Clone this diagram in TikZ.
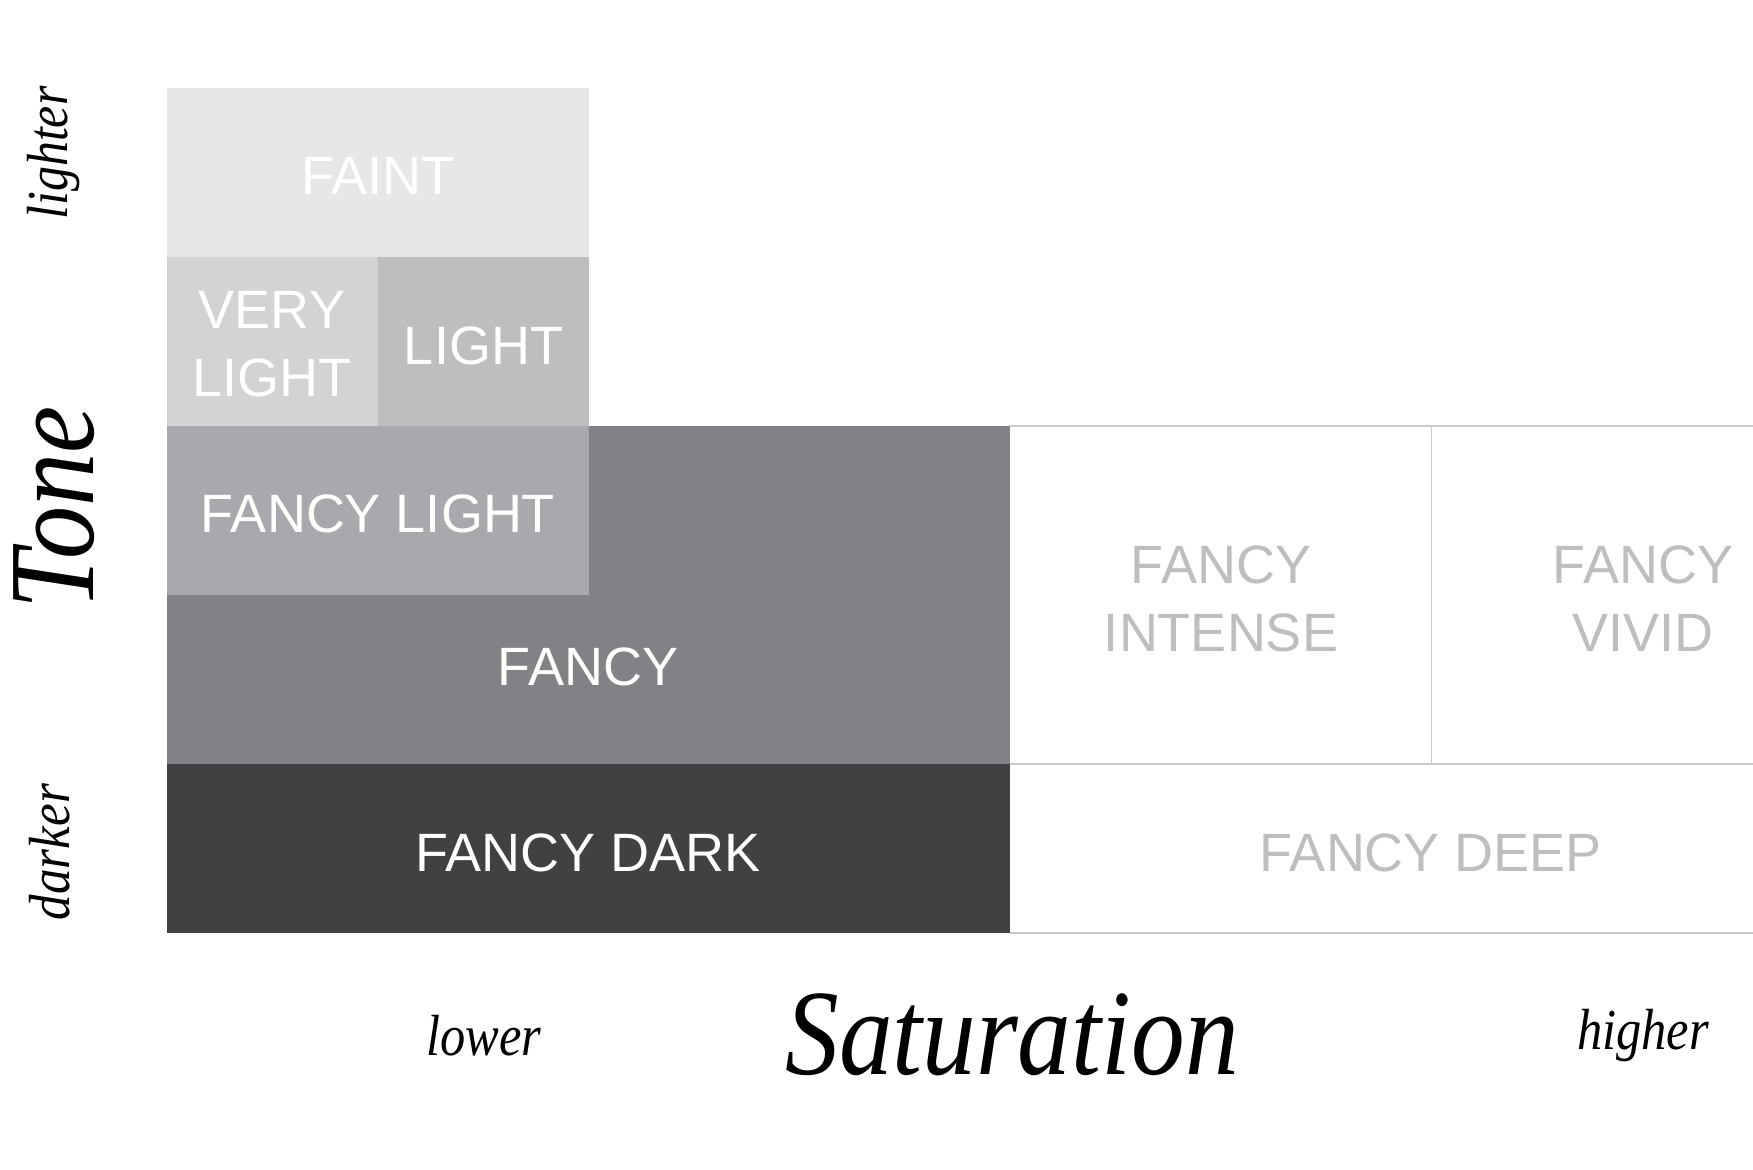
\documentclass[tikz,border=0pt]{standalone}
\usepackage{fontspec}
\setmainfont{Liberation Sans}
\newfontfamily\labserif{Liberation Serif}
\definecolor{cfaint}{HTML}{E6E7E8}
\definecolor{cverylight}{HTML}{D1D3D4}
\definecolor{clight}{HTML}{BCBEC0}
\definecolor{cfancylight}{HTML}{A7A9AC}
\definecolor{cfancy}{HTML}{808285}
\definecolor{cfancydark}{HTML}{414042}
\definecolor{cgreytext}{HTML}{BCBEC0}
\definecolor{cgridline}{HTML}{C9CACC}
\tikzset{
  boxlabel/.style={text=white, align=center, inner sep=0pt,
    font=\fontsize{27pt}{34pt}\selectfont},
  greylabel/.style={boxlabel, text=cgreytext},
  gridline/.style={draw=cgridline, line width=0.75pt},
  smallaxis/.style={inner sep=0pt, text=black,
    font=\labserif\itshape\fontsize{29pt}{34pt}\selectfont},
  bigaxis/.style={inner sep=0pt, text=black,
    font=\labserif\itshape\fontsize{61pt}{70pt}\selectfont}
}
\begin{document}
\begin{tikzpicture}[x=0.5pt, y=-0.5pt]
\useasboundingbox[fill=white] (0,0) rectangle (1753,1169);
% boxes
\fill[cfaint] (166.5,88) rectangle (589,257);
\fill[cverylight] (166.5,257) rectangle (378,426);
\fill[clight] (378,257) rectangle (589,426);
\fill[cfancy] (166.5,426) rectangle (1010,764);
\fill[cfancylight] (166.5,426) rectangle (589,595);
\fill[cfancydark] (166.5,764) rectangle (1010,933);
% grid lines of the white boxes
\coordinate (t0) at (1010,426);
\coordinate (t1) at (1753,426);
\coordinate (m0) at (1010,764);
\coordinate (m1) at (1753,764);
\coordinate (b0) at (1010,933);
\coordinate (b1) at (1753,933);
\coordinate (v0) at (1431.5,426);
\coordinate (v1) at (1431.5,764);
\draw[gridline] (t0) -- (t1);
\draw[gridline] (m0) -- (m1);
\draw[gridline] (b0) -- (b1);
\draw[gridline] (v0) -- (v1);
% box labels
\node[boxlabel] (faint) at (378,176) {FAINT};
\node[boxlabel] (verylight) at (272,344) {VERY\\LIGHT};
\node[boxlabel] (light) at (483.5,346) {LIGHT};
\node[boxlabel] (fancylight) at (378,514) {FANCY LIGHT};
\node[boxlabel] (fancy) at (588,667) {FANCY};
\node[boxlabel] (fancydark) at (588,853) {FANCY DARK};
\node[greylabel] (intense) at (1221,599) {FANCY\\INTENSE};
\node[greylabel] (vivid) at (1643,599) {FANCY\\VIVID};
\node[greylabel] (deep) at (1431,853) {FANCY DEEP};
% axis labels
\node[smallaxis, rotate=90] (lighter) at (54,153) {\scalebox{0.86}[1]{lighter}};
\node[bigaxis, rotate=90] (tone) at (54,508) {\scalebox{0.87}[1]{Tone}};
\node[smallaxis, rotate=90] (darker) at (50,852) {\scalebox{0.88}[1]{darker}};
\node[smallaxis] (lower) at (484,1036) {\scalebox{0.87}[1]{lower}};
\node[bigaxis] (saturation) at (1012,1035) {\scalebox{0.88}[1]{Saturation}};
\node[smallaxis] (higher) at (1643,1036) {\scalebox{0.87}[1]{higher}};
\end{tikzpicture}
\end{document}
